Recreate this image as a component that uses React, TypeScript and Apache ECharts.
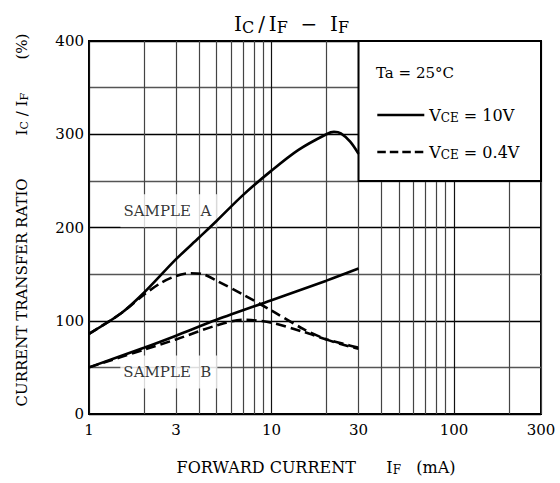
import React, { useEffect, useRef } from "react";
import * as echarts from "echarts";

const FONT = "DejaVu Serif";

// Grid / tick values
const xTickValues = [1, 2, 3, 4, 5, 6, 7, 8, 9, 10, 20, 30, 40, 50, 60, 70, 80, 90, 100, 200, 300];
const xLabelValues = [1, 3, 10, 30, 100, 300];
const yLabelValues = [0, 100, 200, 300, 400];

// SAMPLE A, VCE = 10V
const ifSampleA10 = [1, 1.5, 2, 3, 4, 5, 7, 10, 14, 20, 22, 24, 27, 30];
const ctrSampleA10 = [86, 108, 130, 166, 189, 207, 235, 261, 283, 300, 302.5, 301, 292, 279];
// SAMPLE A, VCE = 0.4V
const ifSampleA04 = [1, 1.5, 2, 2.5, 3, 3.6, 4.2, 5, 7, 10, 15, 20, 25, 30];
const ctrSampleA04 = [86, 108, 128, 141, 148, 151, 150, 143, 128, 111, 91, 80, 74, 70];
// SAMPLE B, VCE = 10V
const ifSampleB10 = [1, 2, 3, 5, 10, 20, 30];
const ctrSampleB10 = [50, 71, 84, 101, 122, 143, 156];
// SAMPLE B, VCE = 0.4V
const ifSampleB04 = [1, 2, 3, 5, 7, 10, 15, 20, 25, 30];
const ctrSampleB04 = [50, 69, 80, 95, 101, 98, 88, 80, 75, 71];

// Curve annotations
const sampleLabels = [
  { name: "SAMPLE  A", x: 2.74, y: 218 },
  { name: "SAMPLE  B", x: 2.74, y: 45 },
];

const pairs = (xs: number[], ys: number[]) => xs.map((x, i) => [x, ys[i]]);

export default function App() {
  const ref = useRef<HTMLDivElement>(null);
  useEffect(() => {
    if (!ref.current) return;
    const chart = echarts.init(ref.current, null, { renderer: "svg" });
    const solid = { color: "#000", width: 2.6, type: "solid" as const };
    const dashed = { color: "#000", width: 2.6, type: [10, 5] };
    const richName = (size: number, sub: number, lift: number) => ({
      t: { fontFamily: FONT, fontSize: size, color: "#000", lineHeight: size + 5 },
      s: { fontFamily: FONT, fontSize: sub, color: "#000", lineHeight: size + 5, padding: [lift, 0, 0, 0] },
    });
    const option: any = {
      animation: false,
      backgroundColor: "#fff",
      textStyle: { fontFamily: FONT },
      title: {
        left: 229,
        top: 7,
        text: "{m|I}{s|C}{m|\u2009/\u2009I}{s|F}{m|  −  I}{s|F}",
        textStyle: {
          fontWeight: "normal",
          rich: {
            m: { fontFamily: FONT, fontSize: 20, fontWeight: "normal", color: "#000", lineHeight: 24 },
            s: { fontFamily: FONT, fontSize: 16, fontWeight: "normal", color: "#000", lineHeight: 24, padding: [6, 0, 0, 0] },
          },
        },
      },
      grid: {
        left: 89,
        right: 19,
        top: 41,
        bottom: 69,
        show: true,
        borderColor: "#000",
        borderWidth: 2,
        containLabel: false,
      },
      legend: {
        orient: "vertical",
        left: 376,
        top: 106,
        padding: 0,
        itemWidth: 47,
        itemHeight: 16,
        itemGap: 19,
        selectedMode: false,
        itemStyle: { opacity: 0 },
        data: [
          { name: "10V", lineStyle: { type: "solid", width: 2.6, color: "#000" } },
          { name: "0.4V", lineStyle: { type: [8.5, 4], width: 2.6, color: "#000" } },
        ],
        formatter: (name: string) => `{v|V}{s|CE}{v| = ${name}}`,
        textStyle: {
          rich: {
            v: { fontFamily: FONT, fontSize: 16, color: "#000", lineHeight: 20 },
            s: { fontFamily: FONT, fontSize: 12, color: "#000", lineHeight: 20, padding: [6, 0, 0, 0] },
          },
        },
      },
      graphic: [
        {
          type: "text",
          z: 100,
          left: 376,
          top: 65,
          style: { text: "Ta = 25°C", font: `15px "${FONT}"`, fill: "#000" },
        },
        {
          type: "text",
          z: 100,
          x: 316,
          y: 467,
          style: {
            text: "{t|FORWARD CURRENT      I}{s|F}{t|   (mA)}",
            align: "center",
            verticalAlign: "middle",
            rich: richName(16, 12, 6),
          },
        },
        {
          type: "text",
          z: 100,
          x: 22,
          y: 220,
          rotation: Math.PI / 2,
          style: {
            text: "{t|CURRENT TRANSFER RATIO         I}{s|C}{t| / I}{s|F}{t|       (%)}",
            align: "center",
            verticalAlign: "middle",
            rich: richName(15, 11, 5),
          },
        },
      ],
      xAxis: {
        type: "log",
        logBase: 10,
        min: 1,
        max: 300,
        axisLine: { show: false },
        axisTick: { show: false, customValues: xTickValues },
        axisLabel: {
          customValues: xLabelValues,
          fontFamily: FONT,
          fontSize: 15,
          color: "#000",
          margin: 8,
        },
        splitLine: {
          show: true,
          lineStyle: { color: ["#111", "#444", "#444", "#444", "#444", "#444", "#444", "#444", "#444"], width: 1.2 },
        },
        minorTick: { show: false },
      },
      yAxis: {
        type: "value",
        min: 0,
        max: 400,
        interval: 50,
        axisLine: { show: false },
        axisTick: { show: false },
        axisLabel: {
          customValues: yLabelValues,
          fontFamily: FONT,
          fontSize: 15,
          color: "#000",
          margin: 5,
        },
        splitLine: { show: true, lineStyle: { color: ["#000", "#555"], width: 1.3 } },
      },
      series: [
        {
          name: "labels",
          type: "scatter",
          z: 1,
          silent: true,
          symbolSize: 0,
          data: sampleLabels.map((d) => ({ value: [d.x, d.y], name: d.name })),
          label: {
            show: true,
            position: "inside",
            formatter: (p: any) => p.name,
            fontFamily: FONT,
            fontSize: 15,
            color: "#000",
            backgroundColor: "#fff",
            padding: [9, 6, 9, 3],
          },
          markArea: {
            silent: true,
            itemStyle: { color: "#fff", borderColor: "#000", borderWidth: 2 },
            data: [[{ xAxis: 30, yAxis: 250 }, { xAxis: 300, yAxis: 400 }]],
          },
        },
        {
          name: "10V",
          type: "line",
          z: 3,
          smooth: 0.3,
          symbol: "none",
          itemStyle: { color: "#000" },
          lineStyle: solid,
          data: pairs(ifSampleA10, ctrSampleA10),
        },
        {
          name: "0.4V",
          type: "line",
          z: 3,
          smooth: 0.3,
          symbol: "none",
          itemStyle: { color: "#000" },
          lineStyle: dashed,
          data: pairs(ifSampleA04, ctrSampleA04),
        },
        {
          name: "10V",
          type: "line",
          z: 3,
          smooth: 0.3,
          symbol: "none",
          itemStyle: { color: "#000" },
          lineStyle: solid,
          data: pairs(ifSampleB10, ctrSampleB10),
        },
        {
          name: "0.4V",
          type: "line",
          z: 3,
          smooth: 0.3,
          symbol: "none",
          itemStyle: { color: "#000" },
          lineStyle: dashed,
          data: pairs(ifSampleB04, ctrSampleB04),
        },
      ],
    };
    chart.setOption(option);
    return () => chart.dispose();
  }, []);
  return <div ref={ref} style={{ position: "absolute", left: 0, top: 0, width: 560, height: 483 }} />;
}
